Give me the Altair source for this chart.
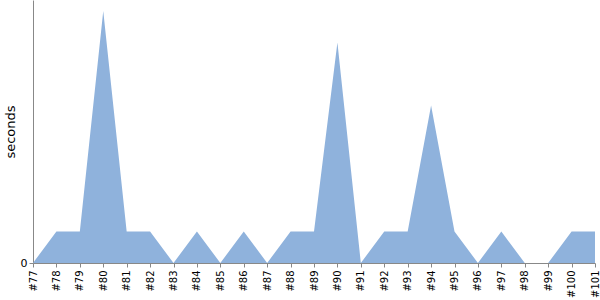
import altair as alt
import pandas as pd

builds = ["#77", "#78", "#79", "#80", "#81", "#82", "#83", "#84", "#85", "#86",
          "#87", "#88", "#89", "#90", "#91", "#92", "#93", "#94", "#95", "#96",
          "#97", "#98", "#99", "#100", "#101"]
seconds = [0, 1, 1, 8, 1, 1, 0, 1, 0, 1,
           0, 1, 1, 7, 0, 1, 1, 5, 1, 0,
           1, 0, 0, 1, 1]

df = pd.DataFrame({"build": builds, "seconds": seconds})

chart = alt.Chart(df).mark_area(color="#8FB2DC", opacity=1).encode(
    x=alt.X("build:N", sort=builds, title=None,
            scale=alt.Scale(type="point", padding=0),
            axis=alt.Axis(labelAngle=-90, labelFontSize=10, labelColor="#000",
                          domainColor="#888", tickColor="#888", tickSize=4,
                          labelFont="DejaVu Sans", labelPadding=3)),
    y=alt.Y("seconds:Q", title="seconds",
            scale=alt.Scale(domain=[0, 8.35], nice=False),
            axis=alt.Axis(values=[0], grid=False, domainColor="#888", tickColor="#888",
                          tickSize=4, labelFontSize=11, labelColor="#000",
                          labelFont="DejaVu Sans", titleFont="DejaVu Sans",
                          titleFontSize=13, titleFontWeight="normal", titleColor="#000",
                          titlePadding=3)),
).properties(
    width=562, height=263,
    autosize=alt.AutoSizeParams(type="none"),
    padding={"left": 33, "top": 0, "right": 5, "bottom": 37},
).configure_view(stroke=None)

chart.save("out.html", embed_options={"renderer": "svg", "actions": False})
